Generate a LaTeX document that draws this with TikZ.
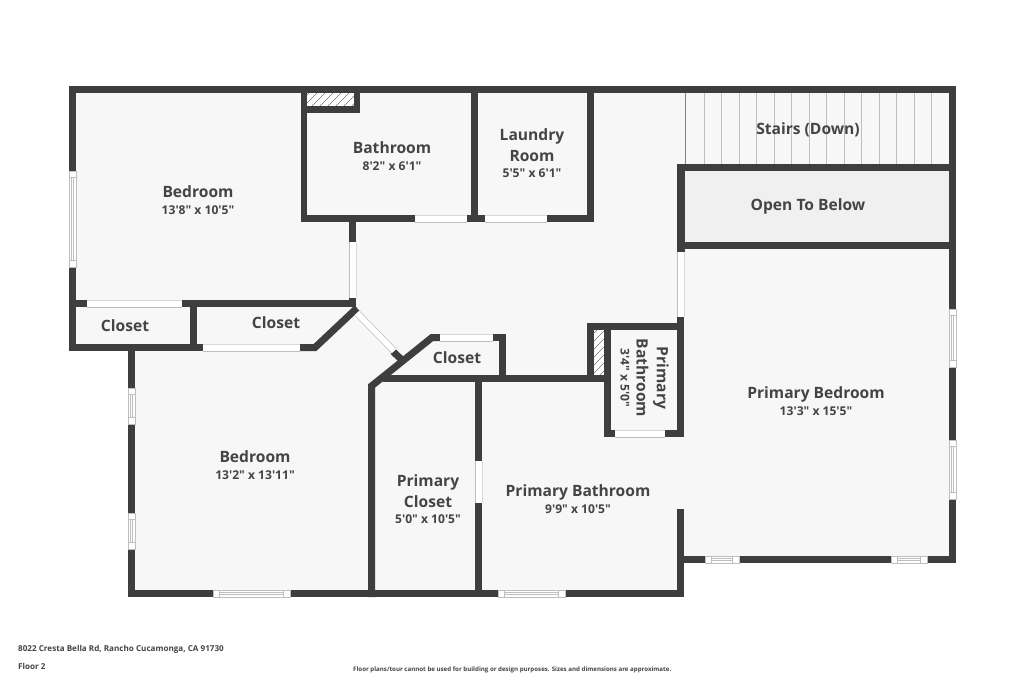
\documentclass[tikz,border=0pt]{standalone}
\usepackage{fontspec}
\setmainfont{Open Sans}[Ligatures=TeXOff]
\definecolor{wallc}{HTML}{3E3E3E}
\definecolor{floorc}{HTML}{F7F7F7}
\definecolor{openc}{HTML}{F0F0F0}
\definecolor{edgec}{HTML}{BEBEBE}
\definecolor{textc}{HTML}{444444}
\tikzset{
  wallfill/.style={fill=wallc,draw=none},
  wallline/.style={draw=wallc,line width=7pt,miter limit=10},
  roomname/.style={font=\bfseries\fontsize{15.6}{20.3}\selectfont,text=textc,align=center,inner sep=0pt},
  roomdim/.style={font=\bfseries\fontsize{12.1}{14}\selectfont,text=textc,align=center,inner sep=0pt},
  foot/.style={font=\bfseries\fontsize{8.1}{10}\selectfont,text=textc,inner sep=0pt,anchor=west},
  fine/.style={font=\bfseries\fontsize{6.15}{7}\selectfont,text=textc,inner sep=0pt,anchor=west},
  thin edge/.style={draw=edgec,line width=0.8pt},
}
\newcommand\wl[4]{\fill[wallfill] (#1,#2) rectangle (#3,#4);}
% door opening, horizontal / vertical
\newcommand\doorh[3]{\fill[white] (#1,#3) rectangle (#2,#3+7);\draw[thin edge] (#1,#3+7) -- (#2,#3+7);\draw[edgec!60,line width=.5pt] (#1,#3) -- (#2,#3);}
\newcommand\doorv[3]{\fill[white] (#3,#1) rectangle (#3+7,#2);\draw[thin edge] (#3,#1) -- (#3,#2);\draw[edgec!60,line width=.5pt] (#3+7,#1) -- (#3+7,#2);}
% window, horizontal / vertical
\newcommand\winh[3]{\fill[white] (#1,#3) rectangle (#2,#3+7);
  \draw[thin edge] (#1,#3) rectangle (#2,#3+7);
  \draw[thin edge] (#1+6.5,#3) -- (#1+6.5,#3+7) (#2-6.5,#3) -- (#2-6.5,#3+7) (#1+6.5,#3+2.4) -- (#2-6.5,#3+2.4) (#1+6.5,#3+4.6) -- (#2-6.5,#3+4.6);}
\newcommand\winv[3]{\fill[white] (#3,#1) rectangle (#3+7,#2);
  \draw[thin edge] (#3,#1) rectangle (#3+7,#2);
  \draw[thin edge] (#3,#1+6.5) -- (#3+7,#1+6.5) (#3,#2-6.5) -- (#3+7,#2-6.5) (#3+2.4,#1+6.5) -- (#3+2.4,#2-6.5) (#3+4.6,#1+6.5) -- (#3+4.6,#2-6.5);}
\begin{document}
\begin{tikzpicture}[x=1pt,y=-1pt]
\useasboundingbox (0,0) rectangle (1024,683);
\fill[white] (0,0) rectangle (1024,683);
% floor
\fill[floorc] (72,89) -- (952,89) -- (952,560) -- (680,560) -- (680,594) -- (131,594) -- (131,348) -- (72,348) -- cycle;
\fill[openc] (684,171) rectangle (949,242);
% stairs treads
\foreach \sx in {704.3,721.7,739.3,756.7,774.3,791.7,809.3,826.7,844.3,861.7,879.3,896.7,914.3,931}
  \draw[edgec,line width=1pt] (\sx,93) -- (\sx,164);
\draw[gray,line width=.8pt] (685,93) -- (685,164);
% hatches
\begin{scope}
  \clip (307,93) rectangle (354,106);
  \fill[white] (307,93) rectangle (354,106);
  \foreach \hx in {296,304,...,360} \draw[black!55,line width=.6pt] (\hx,106) -- (\hx+13,93);
\end{scope}
\begin{scope}
  \clip (594,330) rectangle (604,375);
  \fill[white] (594,330) rectangle (604,375);
  \foreach \hy in {325,333,...,390} \draw[black!55,line width=.6pt] (594,\hy) -- (604,\hy-10);
\end{scope}
% outer walls
\wl{69}{86}{956}{93}
\wl{69}{86}{76}{351}
\wl{69}{344}{203}{351}
\wl{128}{344}{135}{597}
\wl{128}{590}{684}{597}
\wl{949}{86}{956}{563}
\wl{677}{556}{956}{563}
\wl{677}{509}{684}{597}
% upper rooms
\wl{301}{86}{307}{222}
\wl{301}{215}{594}{222}
\wl{471}{86}{478}{222}
\wl{587}{86}{594}{222}
\wl{301}{106}{360}{113}
\wl{354}{86}{360}{113}
\wl{349}{222}{356}{242}
\wl{349}{298}{356}{307}
% closets
\wl{69}{300}{356}{307}
\wl{190}{300}{197}{351}
\wl{203}{344}{315}{351}
\draw[wallline] (300,347.5) -- (315,347.5) -- (357,308);
% central closet and diagonal
\draw[wallline] (371.5,597) -- (371.5,386) -- (432,337.5) -- (445,337.5);
\wl{383}{375}{608}{382}
\wl{493}{334}{506}{341}
\wl{499}{334}{506}{382}
\wl{475}{382}{482}{597}
\draw[draw=wallc,line width=7pt] (393,351.5) -- (402,360);
% primary bathroom (small)
\wl{587}{323}{684}{330}
\wl{587}{323}{594}{382}
\wl{604}{323}{611}{437}
\wl{677}{317}{684}{437}
\wl{604}{430}{684}{437}
% open to below
\wl{677}{164}{956}{171}
\wl{677}{242}{956}{249}
\wl{677}{164}{685}{252}
% doors
\doorh{87}{182}{300}
\doorh{203}{300}{344}
\doorh{415}{467}{215}
\doorh{485}{547}{215}
\doorh{440}{493}{334}
\doorh{615}{665}{430}
\doorv{242}{298}{349}
\doorv{461}{503}{475}
\doorv{252}{317}{677}
% diagonal door
\draw[edgec,line width=7pt] (357,313) -- (394,351);
\draw[white,line width=5.6pt] (357,313) -- (394,351);
% windows
\winv{171}{267}{69}
\winv{388}{424}{128}
\winv{513}{549}{128}
\winv{309}{367}{949}
\winv{440}{499}{949}
\winh{213}{290}{590}
\winh{498}{565}{590}
\winh{705}{739}{556}
\winh{891}{927}{556}
% labels
\node[roomname] (n1) at (198,192) {Bedroom};
\node[roomdim] (d1) at (198,210.500) {13'8" x 10'5"};
\node[roomname] (n2) at (392,148) {Bathroom};
\node[roomdim] (d2) at (392,166.500) {8'2" x 6'1"};
\node[roomname] (n3) at (532,145) {Laundry\\Room};
\node[roomdim] (d3) at (532,173) {5'5" x 6'1"};
\node[roomname] (n4) at (808,129.500) {Stairs (Down)};
\node[roomname] (n5) at (808,206.500) {Open To Below};
\node[roomname] (n6) at (125,325.500) {Closet};
\node[roomname] (n7) at (276,322.500) {Closet};
\node[roomname] (n8) at (457,357.500) {Closet};
\node[roomname] (n9) at (255,457) {Bedroom};
\node[roomdim] (d9) at (255,475.500) {13'2" x 13'11"};
\node[roomname] (n10) at (428,491) {Primary\\Closet};
\node[roomdim] (d10) at (428,519) {5'0" x 10'5"};
\node[roomname] (n11) at (578,492) {Primary Bathroom};
\node[roomdim] (d11) at (578,509.500) {9'9" x 10'5"};
\node[roomname] (n12) at (816,394) {Primary Bedroom};
\node[roomdim] (d12) at (816,411.500) {13'3" x 15'5"};
\node[roomname,rotate=-90] (n13) at (652.500,378) {Primary\\Bathroom};
\node[roomdim,rotate=-90] (d13) at (625,378) {3'4" x 5'0"};
\node[foot] (f1) at (18,649.500) {8022 Cresta Bella Rd, Rancho Cucamonga, CA 91730};
\node[foot] (f2) at (18,666.500) {Floor 2};
\node[fine] (f3) at (353,670) {Floor plans/tour cannot be used for building or design purposes. Sizes and dimensions are approximate.};
\end{tikzpicture}
\end{document}
